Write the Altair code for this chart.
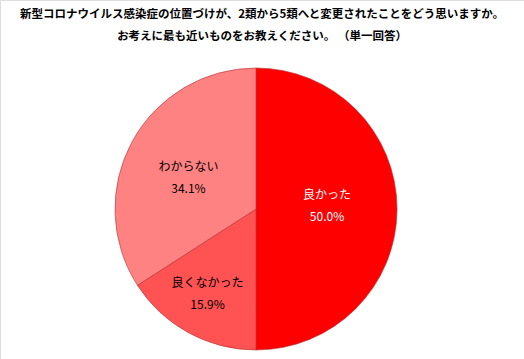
import altair as alt
import pandas as pd

categories = ["良かった", "良くなかった", "わからない"]
values = [50.0, 15.9, 34.1]
colors = ["#FF0000", "#FF5252", "#FF8282"]
title_lines = ["新型コロナウイルス感染症の位置づけが、2類から5類へと変更されたことをどう思いますか。",
               "お考えに最も近いものをお教えください。 （単一回答）"]

df = pd.DataFrame({"cat": categories, "val": values, "order": [0, 1, 2]})
df["label"] = df["cat"] + "\n" + df["val"].map(lambda v: f"{v:.1f}%")

CX, CY, R = 256, 209, 141
FONT = "Noto Sans CJK JP"

pie = alt.Chart(df).mark_arc(radius=R, stroke="#b03030", strokeWidth=0.6).encode(
    theta=alt.Theta("val:Q", stack=True),
    order=alt.Order("order:Q"),
    x=alt.value(CX), y=alt.value(CY),
    color=alt.Color("cat:N", scale=alt.Scale(domain=categories, range=colors), legend=None),
)

# label placement (radius, dx, dy) and colour per slice
label_pos = {"良かった": (71, 0, -14), "良くなかった": (97, -2, -11), "わからない": (77, 0, -5)}
label_color = {"良かった": "white", "良くなかった": "black", "わからない": "black"}

lab_base = alt.Chart(df).transform_window(
    cum="sum(val)", sort=[alt.SortField("order")]
).transform_joinaggregate(total="sum(val)").transform_calculate(
    mid="(datum.cum - datum.val / 2) / datum.total"
)

layers = [pie]
for c in categories:
    r, dx, dy = label_pos[c]
    layers.append(
        lab_base.transform_filter(alt.datum.cat == c)
        .mark_text(radius=r, dx=dx, dy=dy, fontSize=12, font=FONT, lineBreak="\n",
                   lineHeight=22, color=label_color[c], baseline="middle", align="center")
        .encode(theta=alt.Theta("mid:Q", scale=alt.Scale(domain=[0, 1])),
                x=alt.value(CX), y=alt.value(CY), text="label:N")
    )

tdf = pd.DataFrame({"t": ["\n".join(title_lines)]})
title = alt.Chart(tdf).mark_text(fontSize=11.5, fontWeight="bold", font=FONT, lineBreak="\n",
                                 lineHeight=22, baseline="middle", color="black").encode(
    x=alt.value(262), y=alt.value(15), text="t:N")
layers.append(title)

chart = alt.layer(*layers).resolve_scale(theta="independent").properties(
    width=524, height=359, autosize=alt.AutoSizeParams(type="none"), padding=0
).configure_view(stroke=None).configure(background="white")

chart.save("out.html", embed_options={"renderer": "svg", "actions": False})
